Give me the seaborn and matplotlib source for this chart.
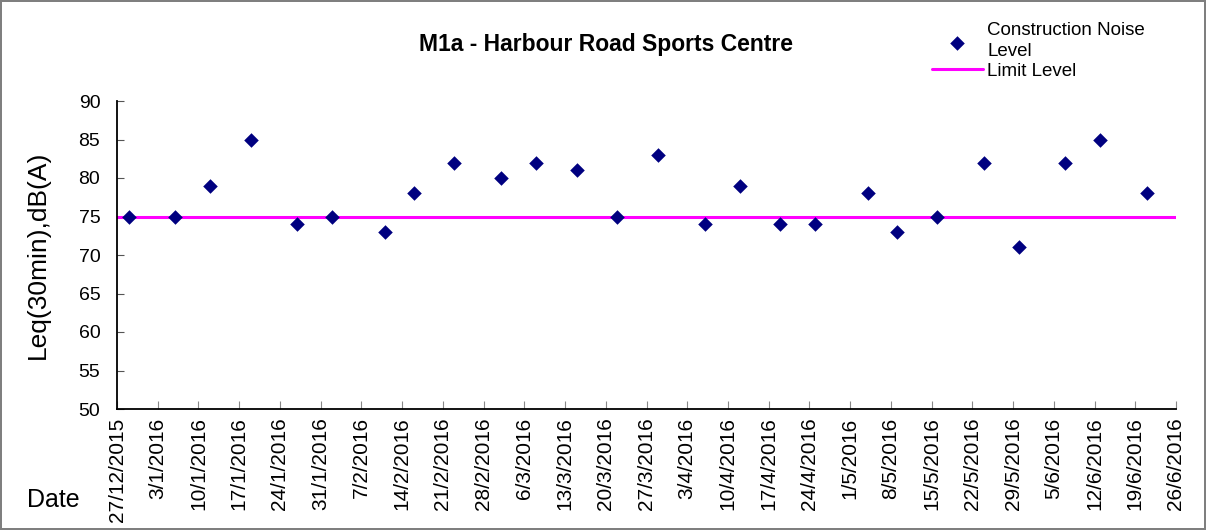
import matplotlib
matplotlib.use('Agg')
import matplotlib.pyplot as plt
import seaborn as sns
import pandas as pd

dates = ['2015-12-29', '2016-01-06', '2016-01-12', '2016-01-19', '2016-01-27', '2016-02-02',
         '2016-02-11', '2016-02-16', '2016-02-23', '2016-03-02', '2016-03-08', '2016-03-15',
         '2016-03-22', '2016-03-29', '2016-04-06', '2016-04-12', '2016-04-19', '2016-04-25',
         '2016-05-04', '2016-05-09', '2016-05-16', '2016-05-24', '2016-05-30', '2016-06-07',
         '2016-06-13', '2016-06-21']
levels = [75, 75, 79, 85, 74, 75, 73, 78, 82, 80, 82, 81, 75, 83, 74, 79, 74, 74, 78, 73,
          75, 82, 71, 82, 85, 78]
limit_level = 75
x_start = '2015-12-27'
x_end = '2016-06-26'

df = pd.DataFrame({'date': pd.to_datetime(dates), 'level': levels})
tick_dates = pd.date_range(x_start, x_end, freq='7D')
tick_labels = [f'{d.day}/{d.month}/{d.year}' for d in tick_dates]

sns.set_style('ticks')
plt.rcParams['font.family'] = ['Liberation Sans', 'DejaVu Sans']
plt.rcParams['text.color'] = 'black'
plt.rcParams['axes.labelcolor'] = 'black'
plt.rcParams['xtick.labelcolor'] = 'black'
plt.rcParams['ytick.labelcolor'] = 'black'

fig = plt.figure(figsize=(12.06, 5.30), dpi=100, linewidth=1.5, edgecolor='#7f7f7f')
ax = fig.add_axes([117 / 1206, 1 - 409 / 530, 1059 / 1206, 308 / 530])

ax.axhline(limit_level, color='#ff00ff', linewidth=2.2, label='Limit Level', zorder=2)
sns.scatterplot(data=df, x='date', y='level', marker='D', color='#000080', s=55,
                linewidth=0, ax=ax, label='Construction Noise\nLevel', zorder=3)

ax.set_xlim(pd.Timestamp(x_start), pd.Timestamp(x_end))
ax.set_ylim(50, 90)
ax.set_yticks(range(50, 91, 5))
ax.set_xticks(tick_dates)
ax.set_xticklabels(tick_labels, rotation=90, fontsize=15)
ax.tick_params(axis='y', labelsize=14, direction='in', length=5, pad=12, color='#555555')
ax.tick_params(axis='x', direction='in', length=6, pad=6, color='#888888')
ax.set_xlabel('')
ax.set_ylabel('Leq(30min),dB(A)', fontsize=19)
ax.yaxis.set_label_coords(-0.063, 0.5)
sns.despine(ax=ax)
for side in ['left', 'bottom']:
    ax.spines[side].set_color('black')
    ax.spines[side].set_linewidth(1.3)

fig.text(606 / 1206, 1 - 45 / 530, 'M1a - Harbour Road Sports Centre', fontsize=16.5,
         fontweight='bold', ha='center', va='center')
fig.text(27 / 1206, 1 - 500 / 530, 'Date', fontsize=18, ha='left', va='center')

handles, labels = ax.get_legend_handles_labels()
order = [labels.index('Construction Noise\nLevel'), labels.index('Limit Level')]
leg = ax.legend([handles[i] for i in order], [labels[i] for i in order],
                loc='upper left', bbox_to_anchor=(932 / 1206, 1 - 22 / 530),
                bbox_transform=fig.transFigure, frameon=False, fontsize=13.5,
                handlelength=2.7, handletextpad=0.25, labelspacing=0.15, borderaxespad=0,
                borderpad=0)
for t in leg.get_texts():
    t.set_linespacing(1.3)

fig.savefig('out.png', dpi=100)
